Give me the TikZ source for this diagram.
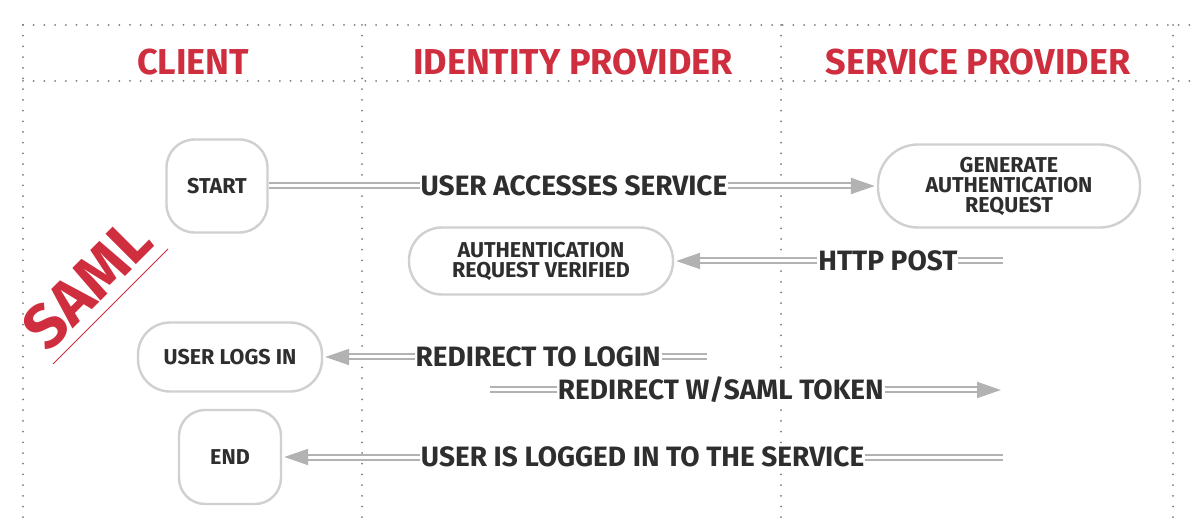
\documentclass[tikz,border=0pt]{standalone}
\usepackage{fontspec}
\setmainfont{Fira Sans}
\usetikzlibrary{arrows.meta}
\definecolor{samlRed}{HTML}{CF2E3E}
\definecolor{flowGray}{HTML}{B2B2B2}
\definecolor{boxGray}{HTML}{D0D0D0}
\definecolor{inkDark}{HTML}{2E2E2E}
\definecolor{laneGray}{HTML}{7A7A7A}
\tikzset{
  lane/.style={laneGray, line width=2pt, line cap=round, dash pattern=on 0pt off 10.7pt},
  hdr/.style={text=samlRed, font=\bfseries\fontsize{36}{42}\selectfont},
  box/.style={draw=boxGray, line width=2.4pt, fill=white, text=inkDark, align=center,
    inner sep=0pt, font=\bfseries\fontsize{21.5}{20}\selectfont},
  flow/.style={draw=flowGray, line width=2pt, double=white, double distance=3pt,
    -{Triangle[length=24pt,width=16pt]}, shorten >=2pt},
  lbl/.style={fill=white, text=inkDark, inner sep=1pt, font=\bfseries\fontsize{28}{30}\selectfont},
}
\begin{document}
\begin{tikzpicture}[x=1pt, y=-1pt]
  \useasboundingbox (0,0) rectangle (1194,526);
  % swim lanes
  \draw[lane] (23,25) -- (1194,25);
  \draw[lane] (23,81) -- (1194,81);
  \foreach \x in {23,362,781,1173}
    \draw[lane] (\x,25) -- (\x,526);
  % headers
  \node[hdr] (client) at (193,62) {CLIENT};
  \node[hdr] (idp) at (573,62) {IDENTITY PROVIDER};
  \node[hdr] (sp) at (978,62) {SERVICE PROVIDER};
  \node[text=samlRed, rotate=45, font=\bfseries\fontsize{62}{62}\selectfont] (saml) at (87,284) {SAML};
  \draw[samlRed, line width=1pt] (53,364) -- (168,249);
  % steps
  \node[box, minimum width=101pt, minimum height=93pt, rounded corners=28pt] (start) at (217,186) {START};
  \node[box, minimum width=262pt, minimum height=83pt, rounded corners=40pt] (genreq) at (1009,186) {GENERATE\\AUTHENTICATION\\REQUEST};
  \node[box, minimum width=264pt, minimum height=67pt, rounded corners=33pt] (verified) at (541,261) {AUTHENTICATION\\REQUEST VERIFIED};
  \node[box, minimum width=184pt, minimum height=69pt, rounded corners=32pt] (logsin) at (230,357) {USER LOGS IN};
  \node[box, minimum width=102pt, minimum height=94pt, rounded corners=26pt] (finish) at (230,457) {END};
  % free ends
  \coordinate (postsrc) at (1003,261);
  \coordinate (loginsrc) at (707,357);
  \coordinate (tokensrc) at (490,390);
  \coordinate (tokendst) at (1003,390);
  \coordinate (donesrc) at (1003,457);
  % messages
  \draw[flow] (start) -- node[lbl, pos=0.502] {USER ACCESSES SERVICE} (genreq);
  \draw[flow] (postsrc) -- node[lbl, pos=0.35] {HTTP POST} (verified);
  \draw[flow] (loginsrc) -- node[lbl, pos=0.44] {REDIRECT TO LOGIN} (logsin);
  \draw[flow] (tokensrc) -- node[lbl, pos=0.45] {REDIRECT W/SAML TOKEN} (tokendst);
  \draw[flow] (donesrc) -- node[lbl, pos=0.5] {USER IS LOGGED IN TO THE SERVICE} (finish);
\end{tikzpicture}
\end{document}
